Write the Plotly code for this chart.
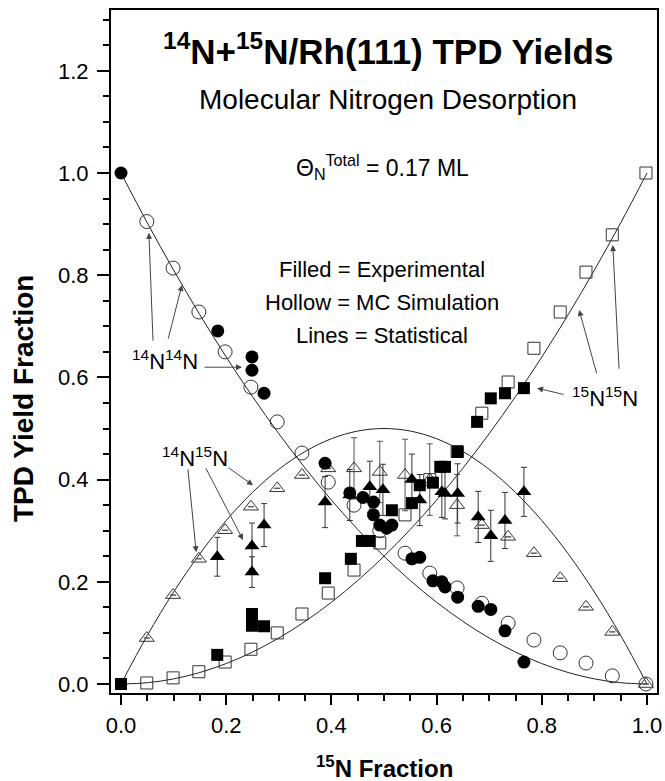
import plotly.graph_objects as go

# ---------------- data ----------------
stat_x = [0.0, 0.05, 0.1, 0.15, 0.2, 0.25, 0.3, 0.35, 0.4, 0.45, 0.5,
          0.55, 0.6, 0.65, 0.7, 0.75, 0.8, 0.85, 0.9, 0.95, 1.0]
stat_1414 = [1.0, 0.9025, 0.81, 0.7225, 0.64, 0.5625, 0.49, 0.4225, 0.36, 0.3025, 0.25,
             0.2025, 0.16, 0.1225, 0.09, 0.0625, 0.04, 0.0225, 0.01, 0.0025, 0.0]
stat_1515 = [0.0, 0.0025, 0.01, 0.0225, 0.04, 0.0625, 0.09, 0.1225, 0.16, 0.2025, 0.25,
             0.3025, 0.36, 0.4225, 0.49, 0.5625, 0.64, 0.7225, 0.81, 0.9025, 1.0]
stat_1415 = [0.0, 0.095, 0.18, 0.255, 0.32, 0.375, 0.42, 0.455, 0.48, 0.495, 0.5,
             0.495, 0.48, 0.455, 0.42, 0.375, 0.32, 0.255, 0.18, 0.095, 0.0]

mc_x = [0.049, 0.099, 0.148, 0.198, 0.247, 0.297, 0.344, 0.394, 0.443, 0.492,
        0.54, 0.587, 0.639, 0.686, 0.736, 0.785, 0.835, 0.884, 0.934, 0.998]
mc_1414 = [0.905, 0.814, 0.728, 0.650, 0.581, 0.513, 0.452, 0.395, 0.35, 0.30,
           0.256, 0.217, 0.188, 0.158, 0.119, 0.086, 0.061, 0.041, 0.016, 0.0]
mc_1515 = [0.002, 0.012, 0.024, 0.043, 0.068, 0.10, 0.137, 0.178, 0.223, 0.276,
           0.331, 0.40, 0.455, 0.530, 0.591, 0.657, 0.728, 0.806, 0.879, 1.0]
mc_1415 = [0.09, 0.174, 0.245, 0.301, 0.347, 0.383, 0.409, 0.422, 0.422, 0.415,
           0.409, 0.40, 0.35, 0.311, 0.288, 0.256, 0.207, 0.151, 0.102, 0.0]
mc_1415_err = [0, 0, 0, 0, 0, 0, 0, 0, 0.06, 0.06,
               0.07, 0.07, 0.06, 0, 0, 0, 0, 0, 0, 0]

ex_c_x = [0.0, 0.184, 0.249, 0.249, 0.272, 0.388, 0.435, 0.46, 0.48, 0.48, 0.492, 0.505,
          0.515, 0.553, 0.568, 0.593, 0.61, 0.616, 0.64, 0.679, 0.703, 0.73, 0.766]
ex_c_y = [1.0, 0.691, 0.640, 0.614, 0.569, 0.432, 0.374, 0.365, 0.356, 0.331, 0.311, 0.305,
          0.311, 0.245, 0.248, 0.202, 0.200, 0.190, 0.170, 0.152, 0.146, 0.104, 0.043]

ex_s_x = [0.0, 0.183, 0.249, 0.249, 0.272, 0.388, 0.437, 0.458, 0.473, 0.515, 0.553,
          0.568, 0.593, 0.607, 0.616, 0.64, 0.677, 0.703, 0.73, 0.766]
ex_s_y = [0.0, 0.057, 0.137, 0.114, 0.113, 0.207, 0.245, 0.28, 0.28, 0.34, 0.354,
          0.389, 0.394, 0.425, 0.425, 0.454, 0.513, 0.559, 0.569, 0.579]

ex_t_x = [0.183, 0.249, 0.249, 0.272, 0.388, 0.435, 0.473, 0.498, 0.553, 0.568,
          0.61, 0.616, 0.64, 0.679, 0.703, 0.73, 0.766]
ex_t_y = [0.249, 0.27, 0.219, 0.311, 0.356, 0.37, 0.386, 0.38, 0.40, 0.36,
          0.376, 0.373, 0.373, 0.327, 0.29, 0.32, 0.376]
ex_t_err = [0.038, 0.045, 0.03, 0.042, 0.05, 0.05, 0.05, 0.05, 0.05, 0.05,
            0.05, 0.05, 0.058, 0.05, 0.05, 0.055, 0.048]

x_ticks = [0.0, 0.2, 0.4, 0.6, 0.8, 1.0]
y_ticks = [0.0, 0.2, 0.4, 0.6, 0.8, 1.0, 1.2]

FONT = "Liberation Sans, Arial, Helvetica, sans-serif"
HOLLOW = "#333333"

W, H = 665, 781
ML, MR, MT, MB = 111, 8, 10, 88
PW, PH = W - ML - MR, H - MT - MB

fig = go.Figure()

for ys in (stat_1414, stat_1515, stat_1415):
    fig.add_trace(go.Scatter(x=stat_x, y=ys, mode="lines",
                             line=dict(color="#222222", width=1, shape="spline"),
                             hoverinfo="skip"))

fig.add_trace(go.Scatter(x=mc_x, y=mc_1415, mode="markers",
                         marker=dict(symbol="triangle-up-open", size=13,
                                     color=HOLLOW, line=dict(width=1, color=HOLLOW)),
                         error_y=dict(type="data", array=mc_1415_err, visible=True,
                                      color="#555555", thickness=1, width=3)))
fig.add_trace(go.Scatter(x=mc_x, y=mc_1414, mode="markers",
                         marker=dict(symbol="circle-open", size=14,
                                     color=HOLLOW, line=dict(width=1, color=HOLLOW))))
fig.add_trace(go.Scatter(x=mc_x, y=mc_1515, mode="markers",
                         marker=dict(symbol="square-open", size=12,
                                     color=HOLLOW, line=dict(width=1, color=HOLLOW))))

fig.add_trace(go.Scatter(x=ex_t_x, y=ex_t_y, mode="markers",
                         marker=dict(symbol="triangle-up", size=13, color="black"),
                         error_y=dict(type="data", array=ex_t_err, visible=True,
                                      color="#333333", thickness=1, width=3)))
fig.add_trace(go.Scatter(x=ex_c_x, y=ex_c_y, mode="markers",
                         marker=dict(symbol="circle", size=13, color="black")))
fig.add_trace(go.Scatter(x=ex_s_x, y=ex_s_y, mode="markers",
                         marker=dict(symbol="square", size=12, color="black")))

annotations = []


def txt(x, y, s, size, xref="paper", yref="paper", angle=0):
    annotations.append(dict(x=x, y=y, xref=xref, yref=yref, text=s, showarrow=False,
                            textangle=angle,
                            font=dict(family=FONT, size=size, color="black"),
                            xanchor="center", yanchor="middle"))


def px(xp, yp, s, size, angle=0):
    txt((xp - ML) / PW, (H - MB - yp) / PH, s, size, angle=angle)


px(388, 49, "<b><sup>14</sup>N+<sup>15</sup>N/Rh(111) TPD Yields</b>", 35)
px(388, 100, "Molecular Nitrogen Desorption", 28)
px(382, 167, "Θ<sub>N</sub><sup>Total</sup> = 0.17 ML", 23)
px(382, 269, "Filled = Experimental", 22)
px(382, 302, "Hollow = MC Simulation", 22)
px(382, 335, "Lines = Statistical", 22)
px(384, 767, "<b><sup>15</sup>N Fraction</b>", 24)
px(23, 399, "<b>TPD Yield Fraction</b>", 28, angle=-90)

txt(0.084, 0.634, "<sup>14</sup>N<sup>14</sup>N", 22, "x", "y")
txt(0.141, 0.444, "<sup>14</sup>N<sup>15</sup>N", 22, "x", "y")
txt(0.920, 0.562, "<sup>15</sup>N<sup>15</sup>N", 22, "x", "y")

arrows = [
    ((0.061, 0.669), (0.053, 0.883)),
    ((0.089, 0.673), (0.116, 0.781)),
    ((0.156, 0.620), (0.230, 0.620)),
    ((0.127, 0.423), (0.143, 0.258)),
    ((0.160, 0.425), (0.232, 0.282)),
    ((0.202, 0.425), (0.251, 0.389)),
    ((0.844, 0.566), (0.791, 0.579)),
    ((0.905, 0.605), (0.871, 0.732)),
    ((0.947, 0.614), (0.935, 0.859)),
]
for (tx, ty), (hx, hy) in arrows:
    annotations.append(dict(x=hx, y=hy, ax=tx, ay=ty, xref="x", yref="y",
                            axref="x", ayref="y", text="", showarrow=True,
                            arrowhead=2, arrowsize=1.2, arrowwidth=1,
                            arrowcolor="#444444", standoff=0))

fig.update_layout(
    width=W, height=H, showlegend=False,
    margin=dict(l=ML, r=MR, t=MT, b=MB, autoexpand=False),
    paper_bgcolor="white", plot_bgcolor="white",
    font=dict(family=FONT, size=22, color="black"),
    annotations=annotations,
)
fig.update_xaxes(range=[-0.019, 1.019], tickvals=x_ticks,
                 ticktext=[f"{v:.1f}" for v in x_ticks],
                 showline=True, linecolor="black", linewidth=2, mirror=True,
                 ticks="outside", ticklen=10, tickwidth=2, tickcolor="black",
                 minor=dict(dtick=0.05, ticks="outside", ticklen=6, tickwidth=1.5,
                            tickcolor="black"),
                 showgrid=False, zeroline=False, ticklabelstandoff=2,
                 tickfont=dict(size=22, family=FONT))
fig.update_yaxes(range=[-0.0176, 1.319], tickvals=y_ticks,
                 ticktext=[f"{v:.1f}" for v in y_ticks],
                 showline=True, linecolor="black", linewidth=2, mirror=True,
                 ticks="outside", ticklen=12, tickwidth=2, tickcolor="black",
                 minor=dict(dtick=0.05, ticks="outside", ticklen=6, tickwidth=1.5,
                            tickcolor="black"),
                 showgrid=False, zeroline=False, ticklabelstandoff=4,
                 tickfont=dict(size=22, family=FONT))

fig.write_html("out.html")
